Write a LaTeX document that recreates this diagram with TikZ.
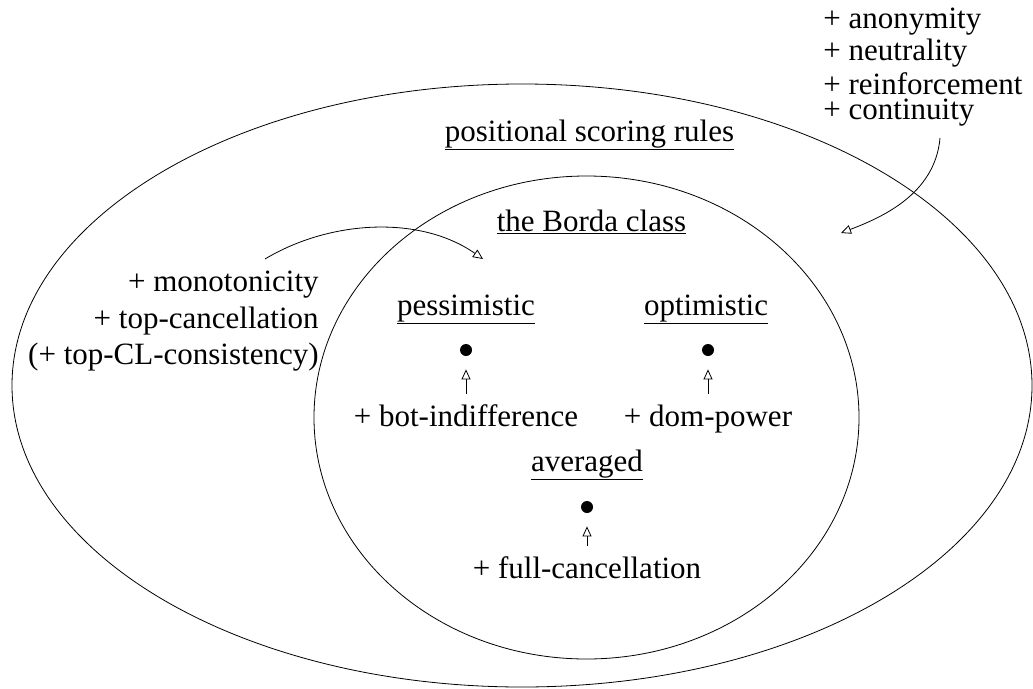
\documentclass[tikz,border=0pt]{standalone}
\usepackage{fontspec}
\setmainfont{Liberation Serif}
\usetikzlibrary{arrows.meta}
\begin{document}
\begin{tikzpicture}[x=1pt,y=-1pt,line width=0.8pt,
  lbl/.style={anchor=base,inner sep=0pt,font=\fontsize{31}{36}\selectfont},
  lblr/.style={lbl,anchor=base east},
  lbll/.style={lbl,anchor=base west},
  dotnode/.style={circle,fill,inner sep=0pt,minimum size=12pt},
  tipline/.style={-{Triangle[open,length=10pt,width=9pt]}},
  uparrow/.style={tipline,shorten <=10pt,shorten >=13pt}]
\useasboundingbox (0,0) rectangle (1033,688);
% sets
\draw (522,385.5) ellipse [x radius=510pt,y radius=301.5pt];
\draw (586.5,417.5) ellipse [x radius=272.5pt,y radius=241.5pt];
% titles
\node[lbl] (psr) at (589.5,141) {\underline{positional scoring rules}};
\node[lbl] (borda) at (591.5,231) {\underline{the Borda class}};
\node[lbl] (pess) at (466,315) {\underline{pessimistic}};
\node[lbl] (opt) at (706,315) {\underline{optimistic}};
\node[lbl] (avg) at (587,471) {\underline{averaged}};
% dots
\node[dotnode] (pd) at (466,350) {};
\node[dotnode] (od) at (708,350) {};
\node[dotnode] (ad) at (587,507) {};
% axioms
\node[lbl] (bi) at (466,426) {+ bot-indifference};
\node[lbl] (dp) at (708,426) {+ dom-power};
\node[lbl] (fc) at (587,578) {+ full-cancellation};
\draw[uparrow] (bi) -- (pd);
\draw[uparrow] (dp) -- (od);
\draw[uparrow] (fc) -- (ad);
% left block
\node[lblr] (mono) at (319,291) {+ monotonicity};
\node[lblr] (topc) at (319,328) {+ top-cancellation};
\node[lblr] (topcl) at (319,364) {(+ top-CL-consistency)};
% right block
\node[lbll] (anon) at (823,28) {+ anonymity};
\node[lbll] (neut) at (823,60) {+ neutrality};
\node[lbll,text depth=0pt] (reinf) at (823,94) {+ reinforcement};
\node[lbll,text height=20pt] (cont) at (823,119) {+ continuity};
% curved arrows
\coordinate (la0) at (265,259);
\coordinate (la1) at (483,259);
\draw[tipline] (la0) .. controls (330,220) and (420,215) .. (la1);
\coordinate (ra0) at (940,138);
\coordinate (ra1) at (841,233);
\draw[tipline] (ra0) .. controls (935,195) and (880,218) .. (ra1);
\end{tikzpicture}
\end{document}
